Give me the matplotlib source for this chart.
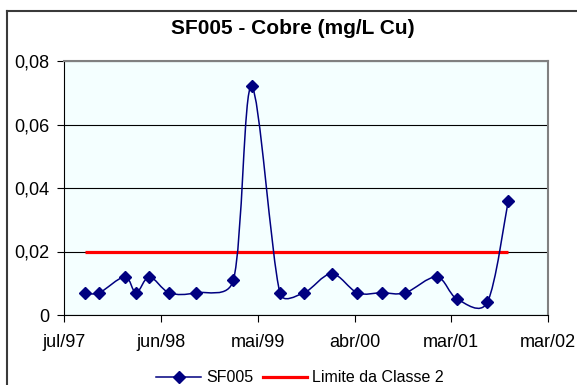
import numpy as np
import matplotlib
matplotlib.use('Agg')
import matplotlib.pyplot as plt
import matplotlib.dates as mdates
from matplotlib.path import Path
from matplotlib.patches import PathPatch
from matplotlib.lines import Line2D

plt.rcParams['font.family'] = ['Liberation Sans', 'DejaVu Sans']

# sampling dates and copper values (mg/L Cu)
dates = np.array(['1997-09-12', '1997-11-01', '1998-01-30', '1998-03-11', '1998-04-27',
                  '1998-07-06', '1998-10-08', '1999-02-17', '1999-04-22', '1999-07-31',
                  '1999-10-24', '2000-01-29', '2000-04-29', '2000-07-24', '2000-10-15',
                  '2001-02-03', '2001-04-16', '2001-07-31', '2001-10-13'], dtype='datetime64[D]')
cobre = [0.007, 0.007, 0.012, 0.007, 0.012, 0.007, 0.007, 0.011, 0.072, 0.007,
         0.007, 0.013, 0.007, 0.007, 0.007, 0.012, 0.005, 0.004, 0.036]
limite = 0.02

tick_labels = ['jul/97', 'jun/98', 'mai/99', 'abr/00', 'mar/01', 'mar/02']
y_ticks = [0, 0.02, 0.04, 0.06, 0.08]
x_start = np.datetime64('1997-07-01')
tick_step = 341  # days between date labels

NAVY = '#000080'
W, H = 577, 385

fig = plt.figure(figsize=(W / 100, H / 100), dpi=100)
ax = fig.add_axes([64.3 / W, 1 - 315 / H, (548 - 64.3) / W, (315 - 61) / H])
ax.set_facecolor('#F4FFFF')

tick_dates = x_start + np.arange(len(tick_labels)) * tick_step
ax.set_xlim(mdates.date2num(tick_dates[0]), mdates.date2num(tick_dates[-1]))
ax.set_ylim(0, 0.08)


def excel_smooth(ax, x, y):
    # Excel-style smoothed line: bezier segments, handles limited to half the segment
    pts = ax.transData.transform(np.column_stack([x, y]))
    n = len(pts)
    verts = [pts[0]]
    codes = [Path.MOVETO]
    for i in range(n - 1):
        p0 = pts[max(i - 1, 0)]
        p1 = pts[i]
        p2 = pts[i + 1]
        p3 = pts[min(i + 2, n - 1)]
        d12 = np.hypot(*(p2 - p1))
        d02 = np.hypot(*(p2 - p0))
        d13 = np.hypot(*(p3 - p1))
        f0 = f1 = 1 / 6
        if d02 > 0 and d02 / 6 >= d12 / 2:
            f0 = d12 / 2 / d02
        if d13 > 0 and d13 / 6 >= d12 / 2:
            f1 = d12 / 2 / d13
        verts += [p1 + f0 * (p2 - p0), p2 - f1 * (p3 - p1), p2]
        codes += [Path.CURVE4] * 3
    verts = ax.transData.inverted().transform(np.array(verts))
    return Path(verts, codes)


xn = mdates.date2num(dates)

ax.plot([xn[0], xn[-1]], [limite, limite], color='red', lw=2.3, solid_capstyle='butt', zorder=2)
ax.add_patch(PathPatch(excel_smooth(ax, xn, cobre), fill=False, edgecolor=NAVY, lw=1.1, zorder=3))
ax.plot(xn, cobre, linestyle='none', marker='D', ms=6.5, color=NAVY, zorder=4)

ax.set_xticks(mdates.date2num(tick_dates))
ax.set_xticklabels(tick_labels)
ax.set_yticks(y_ticks)
ax.set_yticklabels(['0' if v == 0 else f'{v:.2f}'.replace('.', ',') for v in y_ticks])

ax.yaxis.grid(True, color='black', lw=0.8)
ax.set_axisbelow(True)
ax.tick_params(axis='both', direction='out', length=5, width=0.8, labelsize=13, color='black')
ax.tick_params(axis='y', pad=6)
ax.tick_params(axis='x', pad=8.5)

for side in ['top', 'right']:
    ax.spines[side].set_color('#808080')
    ax.spines[side].set_linewidth(1.5)
for side in ['left', 'bottom']:
    ax.spines[side].set_color('black')
    ax.spines[side].set_linewidth(0.8)

# outer chart frame (cropped on the right and bottom)
fig.add_artist(Line2D([7 / W, 1], [1 - 11 / H, 1 - 11 / H], color='#3a3a3a', lw=1.5))
fig.add_artist(Line2D([7 / W, 7 / W], [0, 1 - 11 / H], color='#3a3a3a', lw=1.5))

fig.text(293 / W, 1 - 29 / H, 'SF005 - Cobre (mg/L Cu)', ha='center', va='center',
         fontsize=15, fontweight='bold')

handles = [Line2D([], [], color=NAVY, marker='D', ms=6.5, lw=1.1),
           Line2D([], [], color='red', lw=2.3)]
fig.legend(handles, ['SF005', 'Limite da Classe 2'], loc='center',
           bbox_to_anchor=(300 / W, 1 - 378 / H), ncol=2, frameon=False, fontsize=11.5,
           handlelength=2.8, handletextpad=0.3, columnspacing=0.6, borderpad=0)

fig.savefig('out.png', dpi=100, facecolor='white')
